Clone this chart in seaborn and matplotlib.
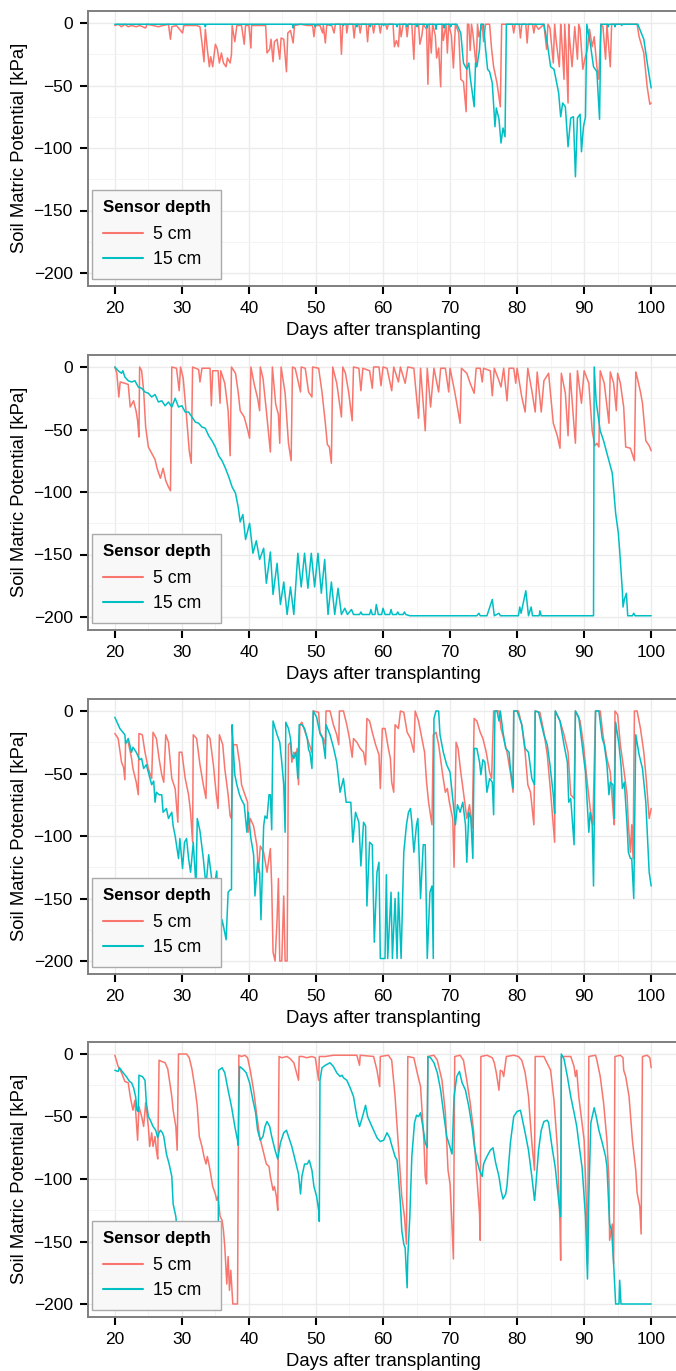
import numpy as np
import pandas as pd
import matplotlib.pyplot as plt
import seaborn as sns
from matplotlib.ticker import MultipleLocator

# --- data: (day after transplanting, soil matric potential kPa) ---
p1_5cm = [(20.0,-2),(20.5,-1),(21.0,-3),(21.5,-1),(22.0,-3),(22.5,-2),(23.2,-3),(23.7,-2),(24.6,-4),(24.8,-1),(25.7,-2),(26.5,-3),(27.2,-2),(28.0,-1),(28.3,-13),(28.5,-3),(29.2,-2),(30.1,-8),(30.3,-2),(31.2,-2),(32.2,-2),(32.7,-3),(33.0,-16),(33.3,-31),(33.5,-5),(33.8,-21),(34.1,-35),(34.3,-27),(34.6,-35),(35.0,-17),(35.3,-21),(35.6,-32),(35.9,-24),(36.2,-32),(36.6,-35),(36.8,-28),(37.2,-32),(37.4,-25),(37.5,-2),(37.9,-15),(38.2,-2),(38.9,-2),(39.3,-17),(39.5,-2),(40.0,-2),(40.3,-20),(40.4,-2),(41.2,-2),(42.2,-2),(42.5,-2),(42.7,-24),(43.1,-21),(43.3,-13),(43.6,-31),(43.8,-15),(44.2,-13),(44.6,-29),(44.8,-12),(45.2,-13),(45.6,-39),(45.8,-8),(46.2,-6),(46.6,-16),(46.8,-2),(47.7,-1),(48.7,-2),(49.5,-2),(49.7,-11),(49.9,-2),(50.6,-2),(51.0,-8),(51.1,-2),(51.4,-16),(51.6,-2),(52.3,-1),(52.7,-8),(52.9,-1),(53.6,-1),(53.8,-25),(54.0,-1),(54.5,-1),(54.6,-8),(54.8,-1),(55.5,-1),(55.7,-12),(55.9,-1),(56.4,-1),(56.6,-8),(56.8,-1),(57.5,-1),(57.7,-15),(57.9,-1),(58.4,-1),(58.6,-8),(58.8,-1),(59.4,-1),(59.6,-8),(59.8,-1),(60.4,-1),(60.6,-5),(60.8,-1),(61.5,-1),(61.7,-19),(62.0,-14),(62.3,-19),(62.5,-1),(62.7,-11),(63.0,-1),(63.4,-1),(63.6,-11),(63.8,-1),(64.3,-1),(64.6,-29),(64.8,-1),(65.3,-1),(65.5,-17),(65.8,-10),(66.0,-1),(66.5,-5),(66.7,-49),(66.9,-1),(67.2,-24),(67.4,-1),(67.8,-10),(68.0,-28),(68.3,-20),(68.6,-51),(68.8,-1),(69.0,-14),(69.4,-1),(69.6,-24),(69.8,-1),(70.2,-10),(70.5,-36),(70.8,-1),(71.3,-8),(71.6,-45),(72.0,-47),(72.4,-71),(72.6,-1),(72.8,-1),(73.0,-22),(73.2,-1),(73.4,-8),(73.9,-35),(74.1,-1),(74.3,-11),(74.8,-1),(75.0,-15),(75.3,-1),(75.9,-1),(76.2,-21),(76.5,-35),(77.0,-48),(77.5,-67),(77.7,-1),(79.3,-1),(79.5,-8),(79.7,-1),(80.3,-1),(80.5,-12),(80.7,-1),(81.3,-1),(81.5,-16),(81.7,-1),(82.3,-1),(82.5,-8),(82.7,-1),(83.2,-5),(84.0,-1),(84.4,-21),(84.6,-1),(84.9,-4),(85.4,-32),(85.6,-1),(85.8,-13),(86.3,-35),(86.5,-1),(86.6,-8),(87.0,-45),(87.1,-1),(87.3,-20),(87.6,-64),(87.7,-1),(87.8,-11),(88.2,-35),(88.6,-3),(89.0,-29),(89.2,-1),(89.4,-5),(89.8,-37),(90.1,-29),(90.5,-21),(90.8,-5),(91.2,-19),(91.5,-11),(91.9,-35),(92.2,-45),(92.5,-1),(92.8,-3),(93.2,-29),(93.4,-1),(93.9,-35),(94.1,-1),(95.0,-1),(96.0,-1),(97.0,-1),(97.9,-1),(98.2,-11),(98.9,-24),(99.4,-51),(99.8,-65),(100.0,-64)]
p1_15cm = [(20.0,-1),(33.4,-1),(33.5,-3),(33.6,-1),(46.5,-1),(46.6,-4),(46.7,-1),(49.8,-1),(49.9,-3),(50.0,-1),(52.0,-1),(52.1,-2),(52.2,-1),(54.0,-1),(54.1,-2),(54.2,-1),(56.0,-1),(56.1,-3),(56.2,-1),(58.0,-1),(58.1,-3),(58.2,-1),(60.0,-1),(60.1,-2),(60.2,-1),(62.0,-1),(62.1,-3),(62.2,-1),(63.5,-1),(63.6,-3),(63.7,-1),(65.0,-1),(65.1,-3),(65.2,-1),(66.5,-1),(66.6,-4),(66.7,-1),(67.8,-1),(67.9,-5),(68.0,-1),(69.0,-1),(69.1,-4),(69.2,-1),(70.0,-1),(70.1,-3),(70.2,-1),(71.0,-1),(71.6,-8),(72.0,-32),(72.3,-35),(72.5,-37),(72.8,-32),(73.0,-43),(73.6,-67),(73.8,-32),(74.0,-35),(74.4,-21),(74.6,-1),(75.0,-1),(75.3,-21),(75.6,-37),(75.9,-39),(76.3,-48),(76.7,-83),(76.9,-68),(77.3,-77),(77.6,-96),(77.9,-84),(78.2,-91),(78.4,-1),(84.0,-1),(84.5,-16),(85.0,-35),(85.5,-37),(85.8,-45),(86.2,-56),(86.5,-75),(86.8,-64),(87.2,-67),(87.6,-99),(88.0,-76),(88.4,-75),(88.7,-123),(89.0,-76),(89.4,-73),(89.6,-103),(89.9,-83),(90.2,-75),(90.4,-1),(90.9,-16),(91.4,-35),(91.9,-39),(92.3,-77),(92.5,-1),(93.5,-1),(93.6,-3),(93.7,-1),(94.5,-1),(94.6,-3),(94.7,-1),(95.5,-1),(95.6,-2),(95.7,-1),(98.0,-1),(98.9,-13),(99.5,-35),(100.0,-52)]

p2_5cm = [(20.0,0),(20.3,-5),(20.6,-24),(20.8,-12),(21.5,-13),(22.0,-14),(22.3,-32),(22.8,-27),(23.2,-36),(23.4,-43),(23.6,-56),(23.7,0),(24.0,-3),(24.3,-19),(24.6,-48),(25.0,-64),(25.3,-67),(25.7,-71),(26.0,-74),(26.3,-81),(26.8,-89),(27.2,-81),(27.6,-91),(28.0,-96),(28.3,-99),(28.5,0),(29.2,-1),(29.6,-19),(29.8,0),(30.2,-9),(30.7,-40),(31.1,-67),(31.4,-77),(31.6,0),(32.5,-2),(32.7,-12),(33.0,-1),(34.2,-1),(34.4,-31),(34.6,-3),(35.4,-3),(35.7,-29),(35.8,-3),(36.4,-13),(36.9,-35),(37.2,-71),(37.4,0),(38.0,-5),(38.4,-20),(38.7,-35),(39.3,-40),(39.8,-50),(40.1,-57),(40.3,0),(40.8,-14),(41.3,-25),(41.6,-35),(41.7,0),(42.1,-9),(42.6,-35),(43.2,-68),(43.5,0),(44.0,-30),(44.4,-38),(44.6,-61),(44.8,0),(45.4,-21),(45.9,-61),(46.3,-75),(46.5,0),(46.9,-1),(47.7,-20),(47.8,0),(48.4,-1),(48.9,-20),(49.4,-24),(49.5,0),(50.4,-1),(50.9,-20),(51.4,-45),(51.7,-62),(52.0,-64),(52.3,-77),(52.5,0),(53.1,-13),(53.8,-40),(54.0,0),(54.4,-5),(54.9,-21),(55.4,-43),(55.6,0),(56.4,-1),(56.7,-19),(57.0,-1),(58.0,-3),(58.4,-17),(58.6,0),(59.4,0),(59.7,-15),(60.0,0),(60.6,-1),(61.3,-19),(61.6,0),(62.3,-12),(62.6,0),(63.3,-13),(63.7,0),(64.6,-1),(65.3,-41),(65.6,-1),(66.3,-51),(66.6,-1),(67.1,-32),(67.6,-1),(68.3,-20),(68.6,-1),(69.3,-1),(69.8,-20),(70.0,-1),(70.7,-20),(71.0,-29),(71.5,-45),(71.7,-1),(72.5,-5),(73.0,-13),(73.6,-21),(73.9,-1),(74.5,-1),(74.8,-12),(75.0,-1),(76.0,-3),(76.3,-23),(76.6,-1),(77.3,-11),(77.6,-16),(78.0,-1),(78.5,-27),(78.8,-1),(79.5,-1),(79.8,-13),(80.0,-1),(80.7,-24),(81.2,-36),(81.6,-1),(82.2,-19),(82.7,-36),(83.0,-4),(83.6,-36),(84.0,-11),(84.7,-5),(85.4,-45),(86.0,-55),(86.4,-65),(86.6,-5),(87.2,-21),(87.6,-55),(87.9,-5),(88.5,-48),(88.7,-61),(89.0,-3),(89.6,-29),(90.0,-3),(90.7,-13),(91.2,-51),(91.6,-63),(91.9,-61),(92.2,-64),(92.4,-3),(93.0,-13),(93.7,-45),(93.9,-4),(94.4,-13),(94.8,-35),(95.0,-5),(95.4,-13),(95.9,-32),(96.2,-64),(96.9,-65),(97.5,-75),(97.7,-4),(97.9,-8),(98.4,-20),(98.7,-29),(99.2,-59),(99.7,-63),(100.0,-67)]
p2_15cm = [(20.0,0),(20.5,-3),(21.0,-5),(21.2,-3),(21.5,-8),(22.0,-11),(22.5,-12),(23.0,-11),(23.5,-16),(24.0,-17),(24.5,-20),(25.0,-21),(25.5,-24),(26.0,-22),(26.5,-28),(27.0,-27),(27.5,-31),(28.0,-28),(28.5,-32),(29.0,-25),(29.5,-32),(30.0,-31),(30.5,-36),(31.0,-36),(31.5,-40),(32.0,-44),(32.5,-45),(33.0,-48),(33.5,-49),(34.0,-55),(34.5,-59),(35.0,-64),(35.5,-71),(36.0,-75),(36.5,-81),(37.0,-88),(37.5,-96),(38.0,-101),(38.4,-112),(38.7,-124),(39.1,-118),(39.5,-138),(40.1,-125),(40.6,-149),(41.1,-139),(41.6,-154),(42.2,-145),(42.6,-173),(43.2,-148),(43.6,-182),(44.2,-157),(44.7,-190),(45.2,-172),(45.7,-198),(46.2,-176),(46.7,-198),(47.3,-149),(47.8,-176),(48.3,-149),(48.8,-177),(49.3,-149),(49.8,-176),(50.3,-149),(50.8,-181),(51.3,-154),(51.8,-198),(52.3,-172),(52.8,-198),(53.3,-177),(53.8,-198),(54.3,-193),(54.7,-198),(55.3,-194),(55.6,-198),(56.5,-198),(56.7,-196),(56.9,-198),(58.0,-198),(58.2,-194),(58.4,-198),(58.8,-198),(59.0,-190),(59.3,-198),(59.8,-198),(60.0,-193),(60.3,-198),(61.0,-198),(61.2,-194),(61.4,-198),(62.0,-198),(62.2,-196),(62.4,-198),(63.0,-198),(63.2,-196),(63.4,-198),(64.0,-199),(74.0,-199),(74.3,-197),(74.5,-199),(75.5,-199),(76.3,-186),(76.6,-199),(77.3,-197),(77.5,-199),(80.2,-199),(80.4,-192),(80.6,-197),(81.3,-179),(81.7,-199),(82.1,-192),(82.3,-199),(83.3,-199),(83.4,-195),(83.6,-199),(91.4,-199),(91.5,0),(91.8,-28),(92.4,-51),(92.9,-59),(93.7,-75),(94.2,-85),(94.7,-117),(95.1,-133),(95.3,-147),(95.7,-179),(95.8,-192),(96.0,-186),(96.3,-181),(96.5,-199),(97.2,-199),(97.4,-197),(97.6,-199),(100.0,-199)]

p3_5cm = [(20.0,-18),(20.5,-22),(21.0,-41),(21.3,-45),(21.5,-55),(21.6,-25),(22.0,-25),(22.5,-38),(22.7,-46),(23.2,-57),(23.5,-67),(23.6,-18),(24.1,-19),(24.5,-33),(25.0,-46),(25.5,-54),(25.7,-17),(26.2,-22),(26.6,-38),(27.0,-51),(27.3,-57),(27.6,-19),(28.0,-25),(28.5,-54),(29.0,-62),(29.4,-89),(29.6,-33),(30.0,-33),(30.5,-54),(31.0,-67),(31.3,-81),(31.6,-105),(31.7,-19),(32.2,-22),(32.7,-43),(33.2,-59),(33.6,-70),(33.8,-19),(34.2,-22),(34.7,-43),(35.1,-65),(35.4,-78),(35.6,-19),(36.1,-27),(36.4,-46),(36.9,-67),(37.2,-84),(37.4,-86),(37.7,-27),(38.2,-27),(38.6,-41),(38.9,-59),(39.4,-67),(39.8,-73),(39.9,-97),(40.2,-86),(40.7,-92),(41.2,-108),(41.4,-129),(41.7,-108),(42.2,-113),(42.7,-129),(43.2,-110),(43.4,-140),(43.6,-193),(43.9,-200),(44.2,-167),(44.4,-134),(44.6,-200),(44.9,-200),(45.2,-148),(45.4,-200),(45.7,-200),(45.9,-27),(46.2,-25),(46.4,-41),(46.7,-33),(47.0,-36),(47.2,-30),(47.4,-59),(47.6,-11),(47.9,-9),(48.4,-17),(48.9,-25),(49.4,-33),(49.6,0),(50.4,-1),(50.6,-17),(51.1,-22),(51.4,-27),(51.5,0),(52.1,0),(52.6,-11),(53.1,-19),(53.4,-27),(53.5,0),(54.1,0),(54.6,-11),(55.0,-22),(55.4,-37),(55.6,-22),(56.1,-25),(56.6,-30),(57.1,-33),(57.4,-43),(57.6,-6),(58.0,-8),(58.4,-17),(58.9,-27),(59.4,-35),(59.6,-62),(59.9,-14),(60.3,-14),(60.8,-30),(61.1,-38),(61.3,-57),(61.6,-65),(61.8,-11),(62.3,-14),(62.6,0),(63.1,-1),(63.6,-17),(64.1,-22),(64.6,-33),(64.8,0),(65.3,-8),(65.8,-22),(66.2,-33),(66.5,-57),(66.8,-73),(67.3,-91),(67.5,-19),(67.9,-17),(68.3,-27),(68.9,-51),(69.3,-65),(69.6,-62),(69.9,-73),(70.4,-86),(70.6,-125),(70.9,-25),(71.2,-30),(71.6,-49),(72.0,-65),(72.5,-86),(72.9,-75),(73.3,-94),(73.6,-6),(74.0,-8),(74.5,-17),(74.9,-22),(75.4,-33),(75.9,-49),(76.2,-54),(76.5,0),(77.3,0),(77.6,-14),(78.0,-22),(78.5,-33),(79.0,-49),(79.4,-65),(79.5,0),(80.2,0),(80.7,-11),(81.2,-33),(81.6,-59),(82.0,-65),(82.5,-91),(82.7,0),(83.4,-1),(84.0,-17),(84.5,-35),(85.0,-65),(85.6,-105),(85.7,0),(86.4,-8),(87.0,-19),(87.6,-33),(88.0,-67),(88.5,-70),(88.7,0),(89.4,-8),(89.9,-27),(90.4,-54),(90.9,-78),(91.3,-91),(91.7,0),(92.4,0),(92.8,-19),(93.4,-38),(93.9,-49),(94.4,-86),(94.5,-91),(94.6,0),(95.0,-3),(95.4,-27),(95.9,-46),(96.4,-67),(96.6,-91),(96.9,-113),(97.1,-91),(97.3,-118),(97.5,0),(97.9,0),(98.4,-14),(98.9,-33),(99.3,-57),(99.7,-86),(100.0,-78)]
p3_15cm = [(20.0,-5),(20.75,-14),(21.5,-19),(21.6,-26),(22.0,-22),(22.5,-33),(22.7,-29),(23.2,-33),(23.7,-39),(24.0,-38),(24.3,-46),(24.7,-43),(25.1,-51),(25.5,-59),(25.8,-56),(26.0,-73),(26.2,-65),(26.6,-67),(27.0,-67),(27.2,-81),(27.7,-78),(28.0,-86),(28.5,-81),(28.7,-92),(29.0,-100),(29.5,-118),(29.7,-102),(30.1,-126),(30.4,-105),(30.7,-102),(31.0,-118),(31.3,-129),(31.7,-105),(32.1,-140),(32.3,-86),(32.7,-96),(33.2,-118),(33.6,-140),(34.0,-115),(34.3,-128),(34.7,-145),(35.2,-128),(35.6,-188),(36.0,-167),(36.2,-172),(36.6,-183),(36.9,-145),(37.2,-143),(37.4,-143),(37.5,-11),(37.7,-33),(37.9,-51),(38.2,-59),(38.6,-67),(38.9,-71),(39.3,-75),(39.7,-97),(39.9,-81),(40.3,-102),(40.7,-115),(40.9,-148),(41.3,-121),(41.6,-129),(41.8,-167),(42.2,-92),(42.4,-84),(42.7,-86),(43.0,-67),(43.2,-67),(43.4,-95),(43.6,-8),(44.2,-19),(44.6,-25),(44.9,-41),(45.2,-59),(45.4,-97),(45.5,-9),(45.9,-14),(46.2,-22),(46.4,-35),(46.7,-38),(47.0,-33),(47.3,-54),(47.5,-11),(47.9,-11),(48.3,-14),(48.7,-22),(48.9,-31),(49.1,-33),(49.4,-46),(49.6,0),(50.1,-5),(50.6,-18),(51.0,-22),(51.4,-38),(51.5,-11),(52.1,-19),(52.6,-29),(53.1,-41),(53.6,-65),(54.1,-54),(54.5,-73),(55.2,-73),(55.5,-105),(55.9,-81),(56.4,-89),(56.7,-124),(57.1,-89),(57.4,-92),(57.6,-156),(58.0,-105),(58.4,-107),(58.7,-185),(59.1,-129),(59.4,-121),(59.6,-198),(60.3,-198),(60.5,-131),(60.7,-198),(61.2,-145),(61.4,-198),(61.8,-150),(62.1,-198),(62.3,-145),(62.7,-198),(63.1,-113),(63.5,-91),(63.8,-81),(64.1,-78),(64.3,-89),(64.6,-113),(65.0,-91),(65.2,-86),(65.6,-150),(66.0,-107),(66.3,-107),(66.6,-198),(67.0,-145),(67.3,-140),(67.5,-198),(67.6,-6),(67.9,0),(68.3,0),(68.5,-19),(69.0,-33),(69.5,-43),(70.0,-49),(70.4,-70),(70.8,-91),(71.1,-75),(71.5,-81),(71.9,-73),(72.3,-91),(72.5,-121),(72.8,-81),(73.1,-86),(73.4,-118),(73.6,-30),(74.0,-30),(74.4,-41),(74.6,-51),(74.9,-39),(75.2,-41),(75.5,-65),(75.9,-54),(76.3,-57),(76.5,-83),(76.7,0),(77.0,0),(77.3,-8),(77.5,0),(77.9,-17),(78.3,-30),(78.8,-33),(79.0,-46),(79.4,-62),(79.5,0),(80.0,0),(80.7,-11),(81.2,-30),(81.7,-33),(82.2,-54),(82.6,-59),(82.7,0),(83.2,-1),(84.0,-19),(84.5,-27),(84.9,-43),(85.4,-67),(85.6,-82),(85.7,0),(86.4,-8),(87.0,-27),(87.5,-41),(87.7,-73),(88.0,-70),(88.5,-107),(88.7,0),(89.2,-5),(89.7,-27),(90.2,-49),(90.7,-97),(90.9,-81),(91.2,-91),(91.4,-140),(91.7,0),(92.2,0),(92.7,-22),(93.0,-27),(93.4,-43),(93.7,-67),(93.9,-57),(94.3,-59),(94.5,-86),(94.7,-9),(95.2,-27),(95.5,-43),(95.7,-62),(96.0,-57),(96.4,-91),(96.6,-113),(96.9,-118),(97.1,-118),(97.4,-150),(97.7,-19),(98.2,-35),(98.7,-46),(99.2,-73),(99.7,-129),(100.0,-140)]

p4_5cm = [(20.0,-1),(20.5,-10),(21.0,-15),(21.5,-22),(22.0,-23),(22.3,-34),(22.7,-45),(23.0,-37),(23.2,-53),(23.4,-69),(23.6,-42),(24.0,-50),(24.3,-58),(24.6,-39),(25.0,-58),(25.2,-74),(25.5,-63),(25.7,-74),(26.0,-66),(26.2,-77),(26.4,-84),(26.6,-5),(27.0,-6),(27.5,-7),(27.9,-12),(28.2,-23),(28.5,-34),(28.7,-45),(29.1,-58),(29.3,-77),(29.5,0),(30.0,0),(30.7,0),(31.1,-3),(31.5,-12),(32.0,-29),(32.3,-42),(32.6,-66),(33.0,-74),(33.3,-82),(33.6,-88),(33.8,-82),(34.1,-90),(34.3,-96),(34.6,-106),(35.0,-112),(35.2,-117),(35.4,-114),(35.7,-130),(36.0,-133),(36.2,-141),(36.4,-154),(36.7,-184),(36.9,-162),(37.1,-189),(37.3,-173),(37.6,-200),(37.9,-200),(38.3,-200),(38.5,-1),(38.9,-2),(39.4,-1),(39.8,-3),(40.2,-13),(40.7,-29),(41.2,-50),(41.6,-66),(42.2,-79),(42.6,-88),(43.0,-90),(43.2,-98),(43.6,-109),(43.8,-106),(44.1,-114),(44.3,-125),(44.5,-2),(44.9,-3),(45.7,-2),(46.2,-4),(46.7,-7),(47.1,-15),(47.4,-21),(47.5,-2),(48.0,-2),(48.6,-3),(49.4,-2),(49.9,-3),(50.1,-10),(50.4,-21),(50.5,-2),(51.4,-2),(52.6,-1),(54.1,-1),(56.1,-1),(56.5,-9),(56.6,-1),(58.6,-2),(59.1,-13),(59.5,-26),(59.6,-2),(60.8,-1),(61.3,-5),(61.8,-34),(62.3,-74),(62.8,-114),(63.2,-130),(63.5,-152),(63.7,-2),(64.6,-3),(65.1,-15),(65.6,-26),(66.1,-69),(66.3,-98),(66.5,-104),(66.7,-2),(67.6,-1),(68.1,-5),(68.8,-21),(69.3,-47),(69.7,-93),(70.0,-104),(70.3,-138),(70.5,-164),(70.7,-2),(71.5,-1),(72.0,-5),(72.5,-21),(73.0,-39),(73.5,-61),(74.0,-98),(74.4,-128),(74.5,-149),(74.6,-2),(75.5,-1),(76.3,-3),(76.6,-7),(76.9,-15),(77.3,-29),(77.5,-13),(77.8,-14),(78.0,-18),(78.4,-2),(79.5,-1),(80.2,-2),(80.7,-5),(81.2,-15),(81.7,-34),(82.2,-71),(82.6,-93),(82.7,-2),(83.5,-2),(84.0,-2),(85.0,-13),(85.5,-37),(86.0,-74),(86.4,-136),(86.5,-165),(86.6,-2),(88.0,-2),(88.5,-10),(88.7,-18),(88.9,-13),(89.2,-34),(90.0,-69),(90.3,-114),(90.5,-168),(90.7,-2),(91.7,-1),(91.9,-5),(92.4,-18),(92.9,-39),(93.4,-69),(93.7,-101),(93.8,-149),(94.2,-136),(94.4,-168),(94.6,-2),(95.4,-1),(95.8,-3),(95.9,-13),(96.2,-18),(96.7,-34),(97.2,-69),(97.7,-93),(97.9,-111),(98.3,-122),(98.5,-144),(98.7,-2),(99.4,-1),(99.8,-3),(100.0,-11)]
p4_15cm = [(20.0,-13),(20.5,-14),(20.7,-11),(21.1,-14),(21.7,-18),(22.2,-22),(22.5,-23),(22.8,-27),(23.1,-34),(23.3,-45),(23.5,-46),(23.6,-17),(24.1,-18),(24.5,-21),(24.7,-39),(25.0,-50),(25.3,-53),(25.7,-58),(26.1,-61),(26.4,-67),(26.6,-63),(26.8,-61),(27.1,-63),(27.3,-66),(27.7,-80),(28.1,-88),(28.5,-98),(28.7,-120),(29.1,-130),(29.3,-141),(29.8,-155),(30.5,-172),(31.5,-188),(32.5,-198),(35.4,-199),(35.5,-13),(36.0,-11),(36.4,-15),(36.9,-29),(37.4,-42),(37.9,-58),(38.3,-69),(38.4,-73),(38.6,-10),(39.1,-12),(39.6,-15),(40.1,-23),(40.6,-37),(41.0,-47),(41.3,-61),(41.7,-69),(42.1,-66),(42.4,-58),(42.7,-54),(43.1,-58),(43.4,-66),(43.9,-77),(44.3,-84),(44.7,-71),(45.2,-63),(45.6,-61),(45.9,-66),(46.4,-74),(46.9,-85),(47.4,-96),(47.7,-112),(47.9,-98),(48.3,-88),(48.7,-88),(49.0,-85),(49.4,-93),(49.7,-106),(50.1,-114),(50.4,-125),(50.5,-134),(50.6,-21),(50.9,-11),(51.4,-9),(52.1,-7),(52.6,-10),(53.1,-15),(53.6,-18),(53.9,-17),(54.1,-19),(54.6,-21),(55.1,-27),(55.6,-34),(56.1,-50),(56.5,-58),(56.9,-51),(57.4,-41),(57.7,-50),(58.1,-55),(58.6,-61),(59.1,-67),(59.6,-70),(60.1,-69),(60.6,-63),(61.0,-67),(61.3,-73),(61.8,-82),(62.1,-85),(62.3,-98),(62.6,-120),(62.8,-141),(63.1,-152),(63.3,-155),(63.6,-187),(63.7,-162),(64.0,-130),(64.3,-82),(64.7,-55),(65.0,-49),(65.3,-50),(65.6,-47),(66.0,-60),(66.3,-71),(66.6,-75),(66.7,-2),(67.1,-3),(67.6,-7),(68.1,-15),(68.6,-29),(69.1,-50),(69.5,-66),(69.8,-71),(70.3,-80),(70.6,-34),(71.0,-18),(71.4,-14),(71.8,-23),(72.3,-29),(72.8,-42),(73.3,-59),(73.6,-73),(74.0,-85),(74.4,-93),(74.8,-98),(75.0,-88),(75.5,-82),(76.0,-77),(76.4,-75),(76.8,-87),(77.3,-98),(77.6,-109),(77.9,-116),(78.3,-112),(78.5,-105),(79.0,-71),(79.5,-50),(80.0,-46),(80.5,-45),(80.7,-50),(81.2,-63),(81.7,-77),(82.2,-98),(82.6,-117),(82.7,-112),(83.2,-77),(83.6,-61),(84.0,-54),(84.5,-53),(84.7,-55),(85.2,-74),(85.7,-91),(86.2,-117),(86.5,-130),(86.6,0),(87.0,-4),(87.5,-18),(88.0,-34),(88.5,-47),(88.9,-58),(89.2,-71),(89.7,-91),(90.2,-130),(90.5,-180),(90.7,-114),(91.0,-55),(91.5,-43),(91.8,-50),(92.2,-61),(92.7,-71),(93.2,-82),(93.4,-90),(93.8,-136),(94.1,-141),(94.4,-168),(94.7,-200),(95.2,-200),(95.3,-181),(95.5,-200),(100.0,-200)]

depths = ['5 cm', '15 cm']
colors = ['#F8766D', '#00BFC4']
panels = [(p1_5cm, p1_15cm), (p2_5cm, p2_15cm), (p3_5cm, p3_15cm), (p4_5cm, p4_15cm)]

sns.set_style('white')
plt.rcParams['font.family'] = ['Liberation Sans', 'DejaVu Sans']
plt.rcParams['text.color'] = 'black'
plt.rcParams['axes.labelcolor'] = 'black'

fig = plt.figure(figsize=(6.76, 13.71), dpi=100)
W, H = 676, 1371
bottoms_px = [285.5, 629.5, 973.5, 1316.5]

for i, (s5, s15) in enumerate(panels):
    rows = [(d, v, depths[0]) for d, v in s5] + [(d, v, depths[1]) for d, v in s15]
    df = pd.DataFrame(rows, columns=['day', 'kpa', 'depth'])
    ax = fig.add_axes([88 / W, 1 - bottoms_px[i] / H, 590 / W, 275 / H])
    sns.lineplot(data=df, x='day', y='kpa', hue='depth', hue_order=depths,
                 palette=colors, estimator=None, sort=False, lw=1.1, ax=ax)
    ax.set_xlim(16, 104)
    ax.set_ylim(-210, 10)
    ax.xaxis.set_minor_locator(MultipleLocator(5))
    ax.yaxis.set_major_locator(MultipleLocator(50))
    ax.yaxis.set_minor_locator(MultipleLocator(25))
    ax.set_xticks(range(20, 101, 10))
    ax.grid(which='major', color='#EBEBEB', lw=1.0)
    ax.grid(which='minor', color='#F4F4F4', lw=0.7)
    ax.set_axisbelow(True)
    for sp in ax.spines.values():
        sp.set_color('#7F7F7F')
        sp.set_linewidth(1.4)
    ax.tick_params(axis='both', which='major', direction='out', length=6, width=1.5,
                   color='black', labelsize=12.5, labelcolor='black')
    ax.tick_params(axis='x', which='major', bottom=True, pad=5.5)
    ax.tick_params(axis='y', which='major', left=True, pad=5)
    ax.tick_params(axis='both', which='minor', length=0)
    ax.set_xlabel('Days after transplanting', fontsize=13.3, labelpad=4)
    ax.set_ylabel('Soil Matric Potential [kPa]', fontsize=13.3, labelpad=4)
    handles, labels = ax.get_legend_handles_labels()
    leg = ax.legend(handles, labels, title='Sensor depth', loc='lower left',
                    bbox_to_anchor=(4 / 590, 6.5 / 275), borderaxespad=0,
                    fontsize=12.8, title_fontproperties={'weight': 'bold', 'size': 12.2},
                    frameon=True, fancybox=False, handlelength=2.25, handletextpad=0.56,
                    labelspacing=0.45, borderpad=0.6, alignment='left')
    leg._legend_box.sep = 8
    leg.get_title().set_color('black')
    for t in leg.get_texts():
        t.set_color('black')
    leg.get_frame().set_facecolor('#F8F8F8')
    leg.get_frame().set_edgecolor('#AAAAAA')
    leg.get_frame().set_linewidth(1.0)
    leg.get_frame().set_alpha(1)
    for line in leg.get_lines():
        line.set_linewidth(1.5)

fig.savefig('out.png', dpi=100)
